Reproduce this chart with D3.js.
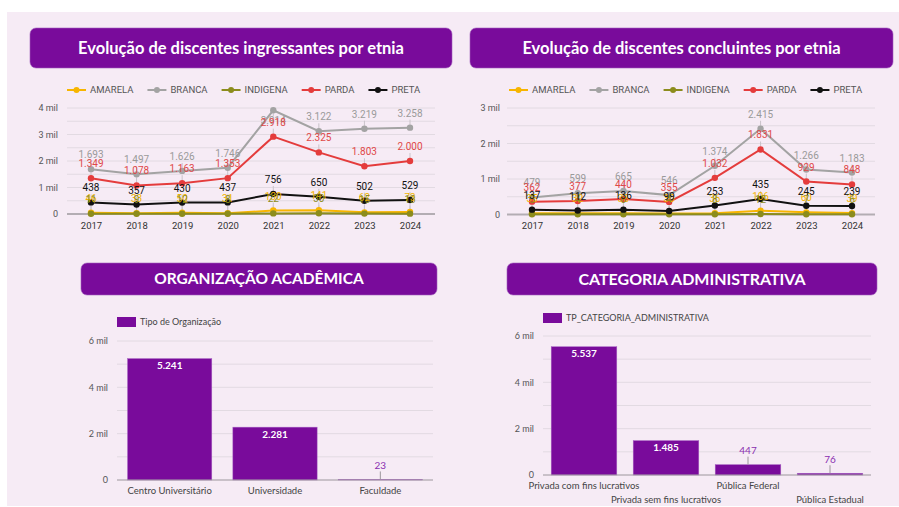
<!DOCTYPE html>
<html>
<head>
<meta charset="utf-8">
<script src="https://cdn.jsdelivr.net/npm/d3@7"></script>
<style>
body { margin: 0; background: #fff; }
svg { display: block; }
</style>
</head>
<body>
<script>
// anos dos graficos de linha
var years = ["2017", "2018", "2019", "2020", "2021", "2022", "2023", "2024"];
var etnias = ["AMARELA", "BRANCA", "INDIGENA", "PARDA", "PRETA"];

// ingressantes por etnia
var ingAmarela = [46, 33, 50, 31, 130, 141, 62, 73];
var ingBranca = [1693, 1497, 1626, 1746, 3914, 3122, 3219, 3258];
var ingIndigena = [11, 9, 12, 8, 22, 30, 15, 13];
var ingParda = [1349, 1078, 1163, 1353, 2918, 2325, 1803, 2000];
var ingPreta = [438, 357, 430, 437, 756, 650, 502, 529];

// concluintes por etnia
var concAmarela = [35, 32, 38, 30, 36, 106, 60, 39];
var concBranca = [479, 599, 665, 546, 1374, 2415, 1266, 1183];
var concIndigena = [5, 4, 6, 4, 8, 12, 7, 6];
var concParda = [362, 377, 440, 355, 1032, 1831, 929, 848];
var concPreta = [137, 112, 136, 99, 253, 435, 245, 239];

// organizacao academica
var orgCategorias = ["Centro Universitário", "Universidade", "Faculdade"];
var orgValores = [5241, 2281, 23];

// categoria administrativa
var catCategorias = ["Privada com fins lucrativos", "Privada sem fins lucrativos", "Pública Federal", "Pública Estadual"];
var catValores = [5537, 1485, 447, 76];

var corEtnia = {AMARELA: "#f7b500", BRANCA: "#a3a3a3", INDIGENA: "#8c8c1c", PARDA: "#e43c3c", PRETA: "#111111"};
var corLabel = {AMARELA: "#f2b400", BRANCA: "#9a9a9a", INDIGENA: "#8c8c1c", PARDA: "#e04848", PRETA: "#111111"};
var roxo = "#790b9b";

var br = d3.formatLocale({decimal: ",", thousands: ".", grouping: [3], currency: ["R$", ""]});
var fmt = br.format(",d");
function fmtMil(d) { return d === 0 ? "0" : (d / 1000) + " mil"; }

var svg = d3.select("body").append("svg")
    .attr("width", 899)
    .attr("height", 507);

// fundo rosado
svg.append("rect")
    .attr("x", 7).attr("y", 12)
    .attr("width", 892).attr("height", 494)
    .attr("fill", "#f6ebf5");

// caixas de titulo
function titulo(x, y, w, h, texto, size) {
    svg.append("rect")
        .attr("x", x).attr("y", y).attr("width", w).attr("height", h)
        .attr("rx", 6)
        .attr("fill", roxo)
        .attr("stroke", "#a35fbd").attr("stroke-width", 0.6);
    svg.append("text")
        .attr("x", x + w / 2).attr("y", y + h / 2)
        .attr("dy", "0.35em")
        .attr("text-anchor", "middle")
        .attr("fill", "#fff")
        .style("font-family", "Lato, sans-serif")
        .style("font-weight", "bold")
        .style("font-size", size + "px")
        .text(texto);
}

titulo(30, 28, 422, 40, "Evolução de discentes ingressantes por etnia", 16.5);
titulo(470, 28, 423, 40, "Evolução de discentes concluintes por etnia", 16.5);
titulo(81, 263, 356, 32, "ORGANIZAÇÃO ACADÊMICA", 15.5);
titulo(507, 263, 370, 32, "CATEGORIA ADMINISTRATIVA", 16);

// grafico de linhas
function linhas(cfg) {
    var g = svg.append("g");

    var x = d3.scalePoint().domain(years).range(cfg.xRange);
    var y = d3.scaleLinear().domain([0, cfg.max]).range(cfg.yRange);

    // rotulo acima do ponto, ou abaixo quando sai do topo
    function labelY(d) { return y(d) - 11 < cfg.yRange[1] ? y(d) + 14 : y(d) - 11; }

    // grade a cada 500
    var grade = d3.range(500, cfg.max + 1, 500);
    g.selectAll(".grade")
        .data(grade)
        .enter().append("line")
        .attr("x1", cfg.gridX[0]).attr("x2", cfg.gridX[1])
        .attr("y1", function(d) { return y(d); })
        .attr("y2", function(d) { return y(d); })
        .attr("stroke", "#e2dae2").attr("stroke-width", 1);

    g.append("line")
        .attr("x1", cfg.gridX[0]).attr("x2", cfg.gridX[1])
        .attr("y1", y(0)).attr("y2", y(0))
        .attr("stroke", "#b3adb3").attr("stroke-width", 2);

    // eixo y
    var yAxis = g.append("g")
        .attr("transform", "translate(" + cfg.labelX + ",0)")
        .call(d3.axisLeft(y).tickValues(d3.range(0, cfg.max + 1, 1000)).tickFormat(fmtMil).tickSize(0).tickPadding(0));
    yAxis.select(".domain").remove();
    yAxis.selectAll("text")
        .attr("fill", "#555")
        .style("font-family", "Roboto, sans-serif")
        .style("font-size", "9px");

    // eixo x
    var xAxis = g.append("g")
        .attr("transform", "translate(0," + (y(0) + 8) + ")")
        .call(d3.axisBottom(x).tickSize(0).tickPadding(0));
    xAxis.select(".domain").remove();
    xAxis.selectAll("text")
        .attr("fill", "#333")
        .style("font-family", "Roboto, sans-serif")
        .style("font-size", "9.5px");

    var line = d3.line()
        .x(function(d, i) { return x(years[i]); })
        .y(function(d) { return y(d); });

    // linhas de chamada
    cfg.series.forEach(function(s) {
        g.selectAll(null)
            .data(s.values)
            .enter().append("line")
            .attr("x1", function(d, i) { return x(years[i]); })
            .attr("x2", function(d, i) { return x(years[i]); })
            .attr("y1", function(d) { return labelY(d) > y(d) ? y(d) + 3 : labelY(d) + 3; })
            .attr("y2", function(d) { return labelY(d) > y(d) ? labelY(d) - 8 : y(d) - 3; })
            .attr("stroke", "#c9c3c9").attr("stroke-width", 1);
    });

    cfg.series.forEach(function(s) {
        g.append("path")
            .datum(s.values)
            .attr("d", line)
            .attr("fill", "none")
            .attr("stroke", corEtnia[s.name])
            .attr("stroke-width", 2);

        g.selectAll(null)
            .data(s.values)
            .enter().append("circle")
            .attr("cx", function(d, i) { return x(years[i]); })
            .attr("cy", function(d) { return y(d); })
            .attr("r", 3.2)
            .attr("fill", corEtnia[s.name]);
    });

    // rotulos de valor
    cfg.series.forEach(function(s) {
        g.selectAll(null)
            .data(s.values)
            .enter().append("text")
            .attr("x", function(d, i) { return x(years[i]); })
            .attr("y", labelY)
            .attr("text-anchor", "middle")
            .attr("fill", corLabel[s.name])
            .style("font-family", "Roboto, sans-serif")
            .style("font-size", "10px")
            .text(function(d) { return fmt(d); });
    });

    // legenda
    var lx = cfg.legendX;
    cfg.series.forEach(function(s) {
        var item = g.append("g").attr("transform", "translate(" + lx + "," + cfg.legendY + ")");
        item.append("line")
            .attr("x1", 0).attr("x2", 19)
            .attr("stroke", corEtnia[s.name]).attr("stroke-width", 2);
        item.append("circle")
            .attr("cx", 9.5).attr("r", 3)
            .attr("fill", corEtnia[s.name]);
        var t = item.append("text")
            .attr("x", 23).attr("dy", "0.35em")
            .attr("fill", "#555")
            .style("font-family", "Roboto, sans-serif")
            .style("font-size", "9.5px")
            .text(s.name);
        lx += 23 + t.node().getComputedTextLength() + 14;
    });
}

linhas({
    xRange: [91, 410], yRange: [214, 108], max: 4000,
    gridX: [67, 435], labelX: 58,
    legendX: 67, legendY: 90,
    series: [
        {name: "AMARELA", values: ingAmarela},
        {name: "BRANCA", values: ingBranca},
        {name: "INDIGENA", values: ingIndigena},
        {name: "PARDA", values: ingParda},
        {name: "PRETA", values: ingPreta}
    ]
});

linhas({
    xRange: [532, 852], yRange: [214.5, 108], max: 3000,
    gridX: [507, 875], labelX: 500,
    legendX: 509, legendY: 90,
    series: [
        {name: "AMARELA", values: concAmarela},
        {name: "BRANCA", values: concBranca},
        {name: "INDIGENA", values: concIndigena},
        {name: "PARDA", values: concParda},
        {name: "PRETA", values: concPreta}
    ]
});

// grafico de barras
function barras(cfg) {
    var g = svg.append("g");

    var x = d3.scaleBand().domain(cfg.cats).range(cfg.xRange)
        .paddingInner(0.2).paddingOuter(0.1);
    var y = d3.scaleLinear().domain([0, 6000]).range(cfg.yRange);

    g.selectAll(null)
        .data(d3.range(1000, 6001, 1000))
        .enter().append("line")
        .attr("x1", cfg.xRange[0]).attr("x2", cfg.xRange[1])
        .attr("y1", function(d) { return y(d); })
        .attr("y2", function(d) { return y(d); })
        .attr("stroke", "#e2dae2").attr("stroke-width", 1);

    var yAxis = g.append("g")
        .attr("transform", "translate(" + cfg.labelX + ",0)")
        .call(d3.axisLeft(y).tickValues([0, 2000, 4000, 6000]).tickFormat(fmtMil).tickSize(0).tickPadding(0));
    yAxis.select(".domain").remove();
    yAxis.selectAll("text")
        .attr("fill", "#555")
        .style("font-family", "Lato, sans-serif")
        .style("font-size", "9px");

    g.selectAll(null)
        .data(cfg.vals)
        .enter().append("rect")
        .attr("x", function(d, i) { return x(cfg.cats[i]); })
        .attr("y", function(d) { return y(d); })
        .attr("width", x.bandwidth())
        .attr("height", function(d) { return y(0) - y(d); })
        .attr("fill", roxo)
        .attr("stroke", "#a866c4").attr("stroke-width", 0.5);

    g.append("line")
        .attr("x1", cfg.xRange[0]).attr("x2", cfg.xRange[1])
        .attr("y1", y(0)).attr("y2", y(0))
        .attr("stroke", "#9c969c").attr("stroke-width", 1);

    // rotulos
    g.selectAll(null)
        .data(cfg.vals)
        .enter().append("text")
        .attr("x", function(d, i) { return x(cfg.cats[i]) + x.bandwidth() / 2; })
        .attr("y", function(d) { return y(0) - y(d) > 25 ? y(d) + 7 : y(d) - 14; })
        .attr("dy", "0.35em")
        .attr("text-anchor", "middle")
        .attr("fill", function(d) { return y(0) - y(d) > 25 ? "#fff" : "#8a2fb0"; })
        .style("font-family", "Lato, sans-serif")
        .style("font-weight", function(d) { return y(0) - y(d) > 25 ? "bold" : "normal"; })
        .style("font-size", "10px")
        .text(function(d) { return fmt(d); });

    g.selectAll(null)
        .data(cfg.vals.filter(function(d) { return y(0) - y(d) <= 25; }))
        .enter().append("line")
        .attr("x1", function(d) { return x(cfg.cats[cfg.vals.indexOf(d)]) + x.bandwidth() / 2; })
        .attr("x2", function(d) { return x(cfg.cats[cfg.vals.indexOf(d)]) + x.bandwidth() / 2; })
        .attr("y1", function(d) { return y(d) - 8; })
        .attr("y2", function(d) { return y(d); })
        .attr("stroke", "#9c969c").attr("stroke-width", 1);

    // rotulos do eixo x
    g.selectAll(null)
        .data(cfg.cats)
        .enter().append("text")
        .attr("x", function(d) { return x(d) + x.bandwidth() / 2; })
        .attr("y", function(d, i) { return y(0) + 11 + (cfg.stagger && i % 2 ? 14 : 0); })
        .attr("dy", "0.35em")
        .attr("text-anchor", "middle")
        .attr("fill", "#444")
        .style("font-family", "Lato, sans-serif")
        .style("font-size", "9.5px")
        .text(function(d) { return d; });

    // legenda
    g.append("rect")
        .attr("x", cfg.legendX).attr("y", cfg.legendY - 5)
        .attr("width", 19).attr("height", 10)
        .attr("fill", roxo);
    g.append("text")
        .attr("x", cfg.legendX + 23).attr("y", cfg.legendY)
        .attr("dy", "0.35em")
        .attr("fill", "#444")
        .style("font-family", "Lato, sans-serif")
        .style("font-size", "9px")
        .text(cfg.legenda);
}

barras({
    cats: orgCategorias, vals: orgValores,
    xRange: [117, 433], yRange: [480, 341], labelX: 108,
    legendX: 117, legendY: 322, legenda: "Tipo de Organização", stagger: false
});

barras({
    cats: catCategorias, vals: catValores,
    xRange: [543, 871], yRange: [475, 336], labelX: 534,
    legendX: 543, legendY: 318, legenda: "TP_CATEGORIA_ADMINISTRATIVA", stagger: true
});
</script>
</body>
</html>
